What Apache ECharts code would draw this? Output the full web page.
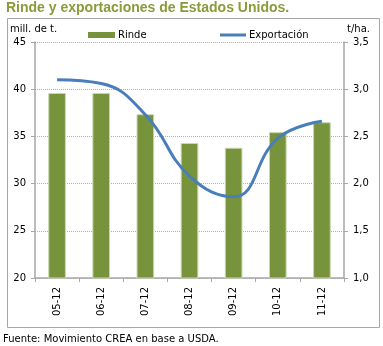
<!DOCTYPE html>
<html><head><meta charset="utf-8">
<script src="https://cdn.jsdelivr.net/npm/echarts@6/dist/echarts.min.js"></script>
<style>html,body{margin:0;padding:0;background:#fff}#c{width:383px;height:346px}</style>
</head><body><div id="c"></div>
<script>
const categories = ['05-12','06-12','07-12','08-12','09-12','10-12','11-12'];
const rinde = [39.6, 39.6, 37.35, 34.3, 33.8, 35.45, 36.5];
const exportacion = [3.1, 3.06, 2.73, 2.08, 1.86, 2.48, 2.66];
const leftTicks = [20, 45, 5];
const rightTicks = [1.0, 3.5, 0.5];

const chart = echarts.init(document.getElementById('c'), null, {renderer:'canvas'});
const F = 'DejaVu Sans';
chart.setOption({
  animation:false,
  textStyle:{fontFamily:F},
  graphic:[
    {type:'text', left:6, top:1, style:{text:'Rinde y exportaciones de Estados Unidos.', font:'bold 14px "Liberation Sans"', fill:'#8a9b3a'}},
    {type:'rect', shape:{x:7.5,y:18.5,width:372,height:309}, style:{fill:'none', stroke:'#a6a6a6', lineWidth:1}},
    {type:'text', left:10, top:24, style:{text:'mill. de t.', font:'10px "DejaVu Sans"', fill:'#000'}},
    {type:'text', left:347, top:24, style:{text:'t/ha.', font:'10px "DejaVu Sans"', fill:'#000'}},
    {type:'text', left:3, top:334, style:{text:'Fuente: Movimiento CREA en base a USDA.', font:'10px "DejaVu Sans"', fill:'#000'}}
  ],
  legend:[
    {top:25, left:83, itemGap:5, itemWidth:27, itemHeight:6, icon:'rect',
     textStyle:{fontSize:10, color:'#000', fontFamily:F, padding:[0,0,0,-2]},
     itemStyle:{borderWidth:0},
     data:['Rinde']},
    {top:25, left:215, itemGap:5, itemWidth:26, itemHeight:3, icon:'rect',
     textStyle:{fontSize:10, color:'#000', fontFamily:F, padding:[0,0,0,-2]},
     data:['Exportación']}
  ],
  grid:{left:35, right:39, top:42, bottom:68, containLabel:false},
  xAxis:{
    type:'category', data:categories, boundaryGap:true,
    axisLine:{lineStyle:{color:'#a6a6a6', width:1.5}},
    axisTick:{show:true, alignWithLabel:false, length:4, lineStyle:{color:'#a6a6a6'}},
    axisLabel:{rotate:90, fontSize:10, color:'#000', margin:9, fontFamily:F}
  },
  yAxis:[
    {type:'value', min:leftTicks[0], max:leftTicks[1], interval:leftTicks[2], position:'left',
     axisLine:{show:true, lineStyle:{color:'#a6a6a6', width:1.5}},
     axisTick:{show:true, length:4, lineStyle:{color:'#a6a6a6'}},
     axisLabel:{fontSize:10, color:'#000', margin:9, fontFamily:F},
     splitLine:{show:true, lineStyle:{color:'#b0b0b0', type:[1,1], width:1}}},
    {type:'value', min:rightTicks[0], max:rightTicks[1], interval:rightTicks[2], position:'right',
     axisLine:{show:true, lineStyle:{color:'#a6a6a6', width:1.5}},
     axisTick:{show:true, length:4, lineStyle:{color:'#a6a6a6'}},
     axisLabel:{fontSize:10, color:'#000', margin:9, fontFamily:F, formatter:v=>v.toFixed(1).replace('.',',')},
     splitLine:{show:false}}
  ],
  series:[
    {name:'Rinde', type:'bar', yAxisIndex:0, data:rinde, barWidth:'40%',
     itemStyle:{color:'#77933c', borderColor:'#c9d8b0', borderWidth:1}},
    {name:'Exportación', type:'line', yAxisIndex:1, data:exportacion, smooth:0.45, symbol:'none',
     lineStyle:{color:'#4a7ebb', width:3}, itemStyle:{color:'#4a7ebb'}}
  ]
});
</script></body></html>
